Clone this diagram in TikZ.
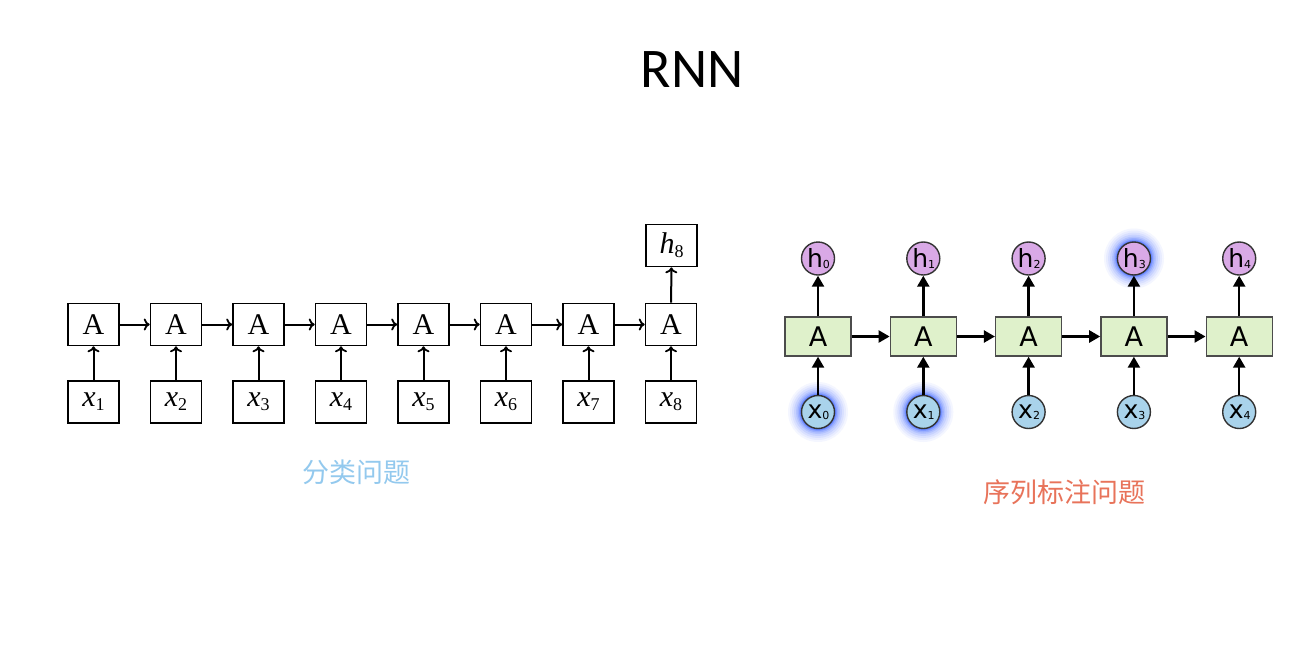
\documentclass[tikz,border=0pt]{standalone}
\usepackage{fontspec}
\setmainfont{Liberation Serif}
\newfontfamily\cjkfont{Noto Sans CJK SC}
\newfontfamily\dvsfont{DejaVu Sans}
\newfontfamily\titlefont{Carlito}
\usetikzlibrary{arrows.meta}
\definecolor{boxgreen}{HTML}{DFF1CB}
\definecolor{hpurple}{HTML}{D9A9E6}
\definecolor{xblue}{HTML}{A9D3EB}
\definecolor{glowblue}{HTML}{2F5BFF}
\definecolor{lblblue}{HTML}{93C9EE}
\definecolor{lblred}{HTML}{E8735A}
\newcommand\vx[2]{\textit{#1}\raisebox{-0.3ex}{\fontsize{18}{18}\selectfont #2}}
\newcommand\cx[2]{\hspace*{1pt}#1\raisebox{-0.1ex}{\fontsize{11}{11}\selectfont #2}}
\tikzset{
  lbox/.style={draw, line width=1.6pt, minimum width=51pt, minimum height=42pt, inner sep=0pt, font=\fontsize{30}{30}\selectfont},
  larr/.style={line width=2pt, -{To[length=6pt,width=12pt,line width=1.8pt]}},
  rbox/.style={draw=black!70, fill=boxgreen, line width=1.4pt, minimum width=66pt, minimum height=39pt, inner sep=0pt, font=\dvsfont\fontsize{27}{27}\selectfont},
  hcirc/.style={circle, draw=black!80, fill=hpurple, line width=1.4pt, minimum size=33pt, inner sep=0pt, font=\dvsfont\fontsize{25}{25}\selectfont},
  xcirc/.style={circle, draw=black!80, fill=xblue, line width=1.4pt, minimum size=33pt, inner sep=0pt, font=\dvsfont\fontsize{25}{25}\selectfont},
  rarr/.style={line width=2.4pt, -{Triangle[length=11pt,width=12pt]}},
}
\newcommand\glowat[1]{%
  \foreach \r/\o in {30/0.05,28/0.06,26/0.08,24/0.1,22/0.13,20.5/0.18,19/0.25,18/0.35}{%
    \fill[glowblue, opacity=\o] (#1) circle (\r pt);}}
\begin{document}
\begin{tikzpicture}[x=1pt,y=-1pt]
\useasboundingbox[fill=white] (0,0) rectangle (1301,649);
\node[font=\titlefont\fontsize{56}{56}\selectfont] (title) at (692,70) {RNN};
% left diagram
\foreach \i in {1,...,8}{
  \node[lbox] (A\i) at ({93.5+82.5*(\i-1)},324.5) {A};
  \node[lbox] (X\i) at ({93.5+82.5*(\i-1)},402) {\vx{x}{\i}};
  \draw[larr] (X\i) -- (A\i);
}
\foreach \i [evaluate=\i as \j using int(\i+1)] in {1,...,7}{
  \draw[larr] (A\i) -- (A\j);
}
\node[lbox] (H8) at (671.5,245.5) {\vx{h}{8}};
\draw[larr] (A8) -- (H8);
\node[font=\cjkfont\fontsize{27}{27}\selectfont, text=lblblue] (lab1) at (356,472) {分类问题};
% right diagram
\glowat{818,412}
\glowat{923.3,412}
\glowat{1134,258.5}
\foreach \i in {0,...,4}{
  \node[rbox] (R\i) at ({818+105.3*\i},336.5) {A};
  \node[hcirc] (Hc\i) at ({818+105.3*\i},258.5) {\cx{h}{\i}};
  \node[xcirc] (Xc\i) at ({818+105.3*\i},412) {\cx{x}{\i}};
  \draw[rarr] (Xc\i) -- (R\i);
  \draw[rarr] (R\i) -- (Hc\i);
}
\foreach \i [evaluate=\i as \j using int(\i+1)] in {0,...,3}{
  \draw[rarr] (R\i) -- (R\j);
}
\node[font=\cjkfont\fontsize{27}{27}\selectfont, text=lblred] (lab2) at (1064,492) {序列标注问题};
\end{tikzpicture}
\end{document}
